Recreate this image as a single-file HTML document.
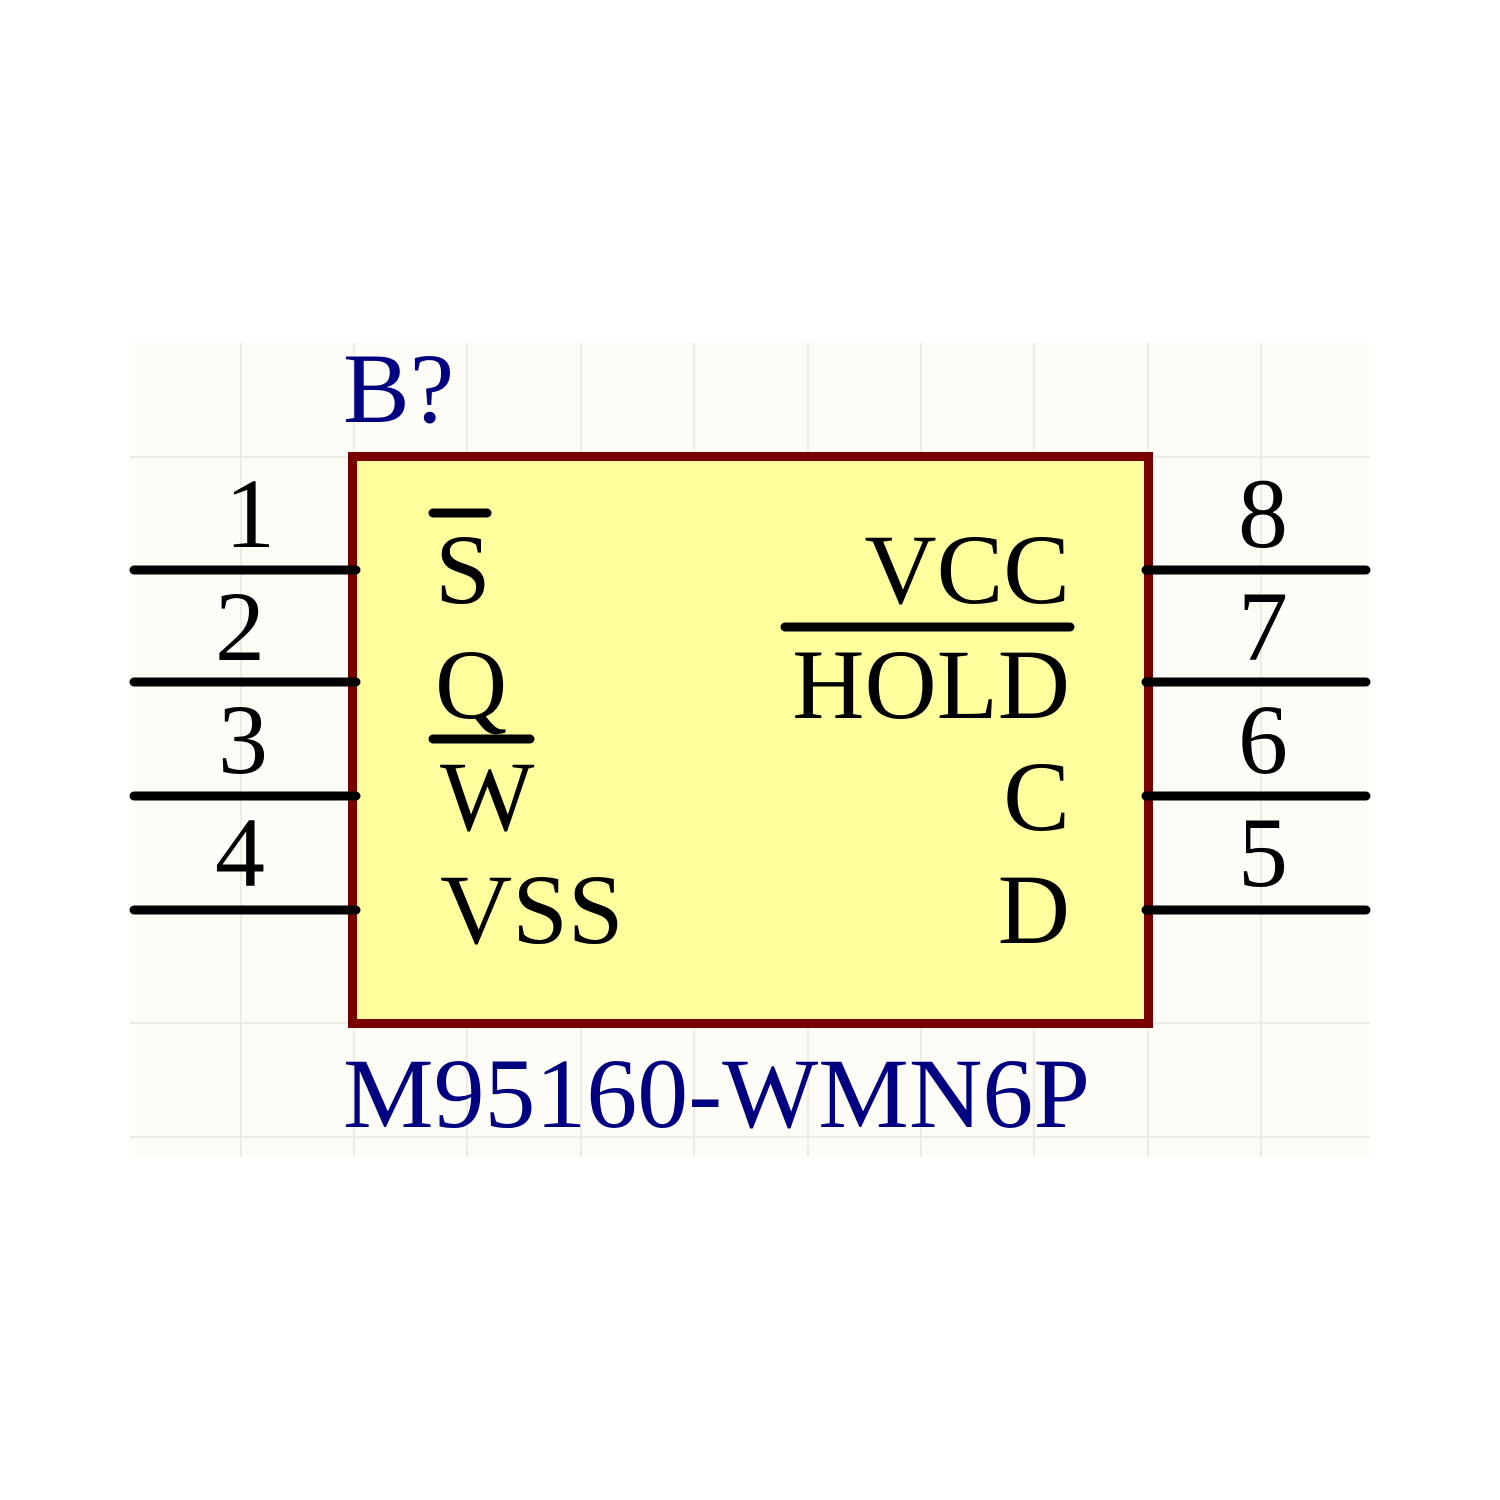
<!DOCTYPE html>
<html><head><style>html,body{margin:0;padding:0;background:#fff;}svg{display:block}</style></head>
<body>
<svg width="1500" height="1500" xmlns="http://www.w3.org/2000/svg">
<rect x="130" y="343" width="1240" height="814" fill="#fdfcf6"/>
<g stroke="#ecebe4" stroke-width="2">
<line x1="241" y1="343" x2="241" y2="1157"/><line x1="354" y1="343" x2="354" y2="1157"/>
<line x1="467" y1="343" x2="467" y2="1157"/><line x1="581" y1="343" x2="581" y2="1157"/>
<line x1="694" y1="343" x2="694" y2="1157"/><line x1="808" y1="343" x2="808" y2="1157"/>
<line x1="921" y1="343" x2="921" y2="1157"/><line x1="1034" y1="343" x2="1034" y2="1157"/>
<line x1="1148" y1="343" x2="1148" y2="1157"/><line x1="1261" y1="343" x2="1261" y2="1157"/>
<line x1="130" y1="457" x2="1370" y2="457"/><line x1="130" y1="1023" x2="1370" y2="1023"/>
<line x1="130" y1="1137" x2="1370" y2="1137"/>
</g>
<rect x="352.5" y="456.5" width="796" height="567" fill="#ffff9e" stroke="#7a0000" stroke-width="9"/>
<g stroke="#000" stroke-width="9" stroke-linecap="round">
<line x1="134" y1="570" x2="356" y2="570"/><line x1="134" y1="682" x2="356" y2="682"/>
<line x1="134" y1="796" x2="356" y2="796"/><line x1="134" y1="910" x2="356" y2="910"/>
<line x1="1146" y1="570" x2="1366" y2="570"/><line x1="1146" y1="682" x2="1366" y2="682"/>
<line x1="1146" y1="796" x2="1366" y2="796"/><line x1="1146" y1="910" x2="1366" y2="910"/>
<line x1="433" y1="513" x2="487" y2="513"/>
<line x1="433" y1="739" x2="530" y2="739"/>
<line x1="785" y1="627" x2="1070" y2="627"/>
</g>
<g font-family="Liberation Serif, serif" font-size="100" fill="#000">
<text x="250" y="547" text-anchor="middle">1</text>
<text x="240" y="660" text-anchor="middle">2</text>
<text x="243" y="773" text-anchor="middle">3</text>
<text x="240" y="886" text-anchor="middle">4</text>
<text x="1263" y="547" text-anchor="middle">8</text>
<text x="1263" y="660" text-anchor="middle">7</text>
<text x="1263" y="773" text-anchor="middle">6</text>
<text x="1263" y="886" text-anchor="middle">5</text>
<text x="435" y="603">S</text>
<text x="435" y="718">Q</text>
<text x="440" y="830">W</text>
<text x="440" y="943">VSS</text>
<text x="1070" y="603" text-anchor="end">VCC</text>
<text x="1070" y="718" text-anchor="end">HOLD</text>
<text x="1070" y="830" text-anchor="end">C</text>
<text x="1070" y="943" text-anchor="end">D</text>
</g>
<g font-family="Liberation Serif, serif" fill="#000080">
<text x="343" y="422" font-size="100">B?</text>
<text x="343" y="1127" font-size="100" textLength="747" lengthAdjust="spacingAndGlyphs">M95160-WMN6P</text>
</g>
</svg>
</body></html>
